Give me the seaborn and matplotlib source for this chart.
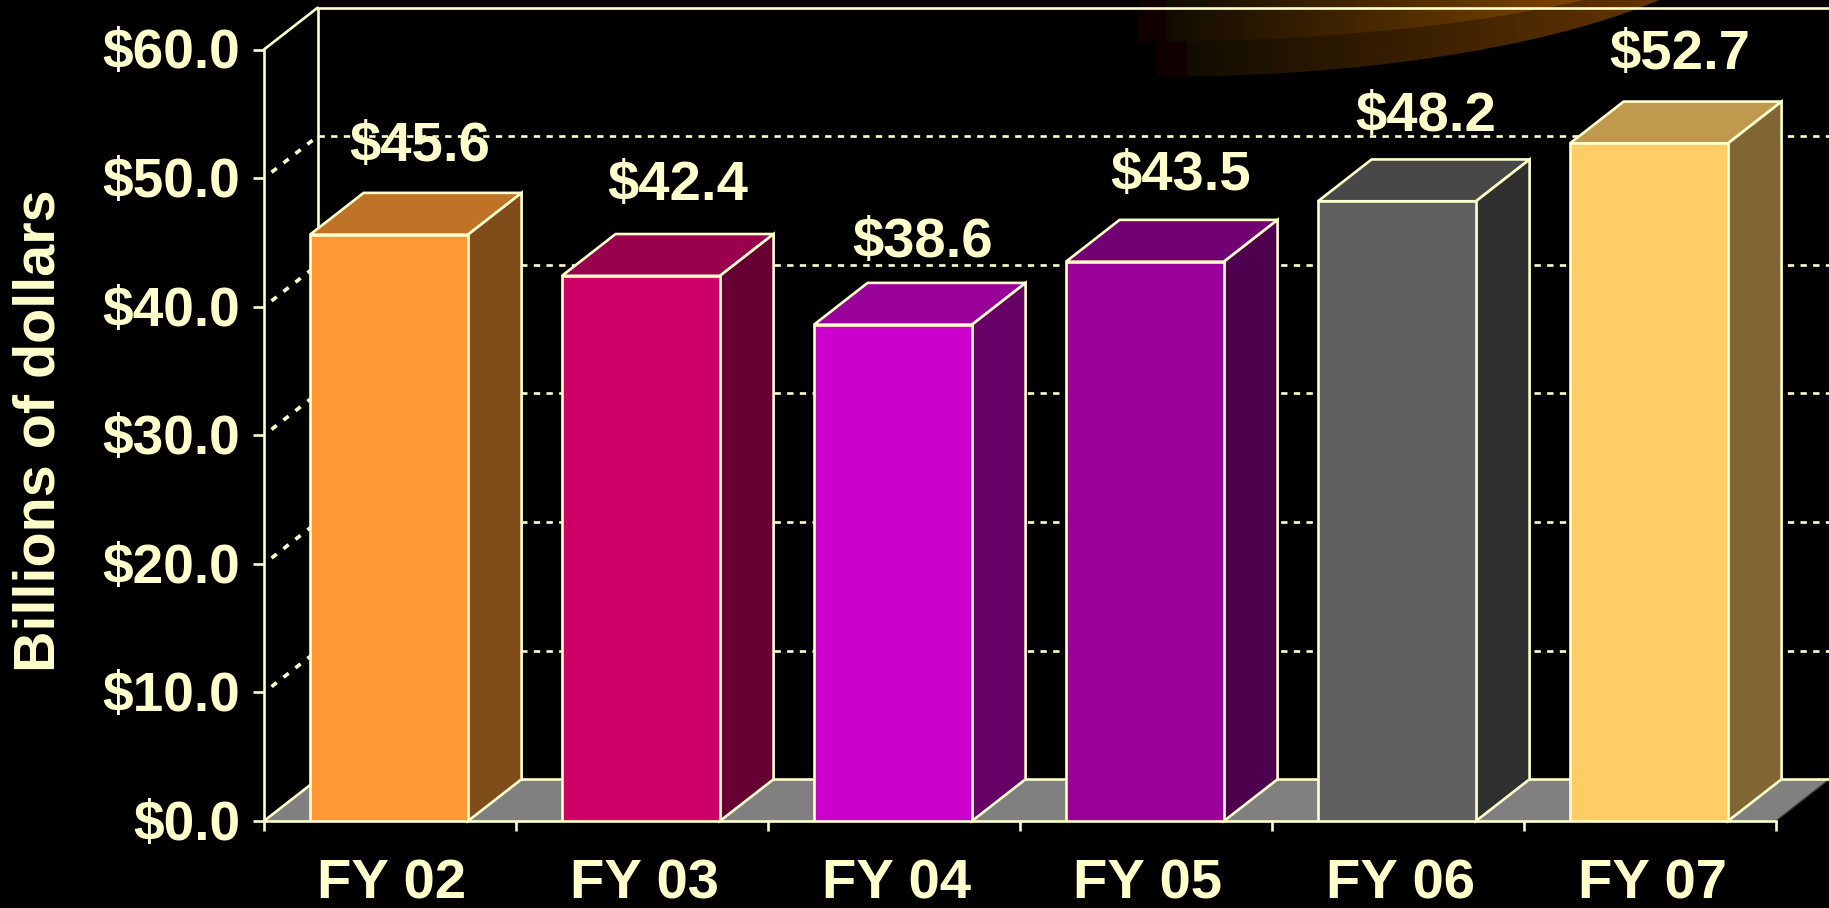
import numpy as np
import seaborn as sns
import matplotlib.pyplot as plt
from matplotlib.colors import LinearSegmentedColormap, to_rgb
from matplotlib.patches import Ellipse
from matplotlib.transforms import ScaledTranslation

years = ['FY 02', 'FY 03', 'FY 04', 'FY 05', 'FY 06', 'FY 07']
values = [45.6, 42.4, 38.6, 43.5, 48.2, 52.7]
value_labels = ['$45.6', '$42.4', '$38.6', '$43.5', '$48.2', '$52.7']
bar_colors = ['#FF9933', '#CC0066', '#CC00CC', '#990099', '#606060', '#FFCC66']
y_ticks = [0, 10, 20, 30, 40, 50, 60]
y_tick_labels = ['$0.0', '$10.0', '$20.0', '$30.0', '$40.0', '$50.0', '$60.0']

# label offsets from the front top edge of each bar, in pixels
label_dx = [30, 36, 29, 35, 28, 30]
label_dy = [74, 76, 68, 72, 70, 74]

W, H = 1829, 908
CREAM = '#FFFFCC'
PX = 0.72  # points per pixel at dpi 100
DX = 53.6 / 252  # depth of the 3d box in x units
DY = 3.25  # depth in y units
LW = 1.9
FONT = 40.5

sns.set_theme(style='white')
plt.rcParams['font.family'] = ['Liberation Sans', 'DejaVu Sans']
plt.rcParams['font.weight'] = 'bold'

fig = plt.figure(figsize=(W / 100, H / 100), dpi=100, facecolor='black')

# orange glow at the top, pixel coordinates
bg = fig.add_axes([0, 0, 1, 1], zorder=0)
bg.set_xlim(0, W)
bg.set_ylim(H, 0)
bg.axis('off')


def glow(x0, x1, y1, end, ell):
    # dark maroon strip on the left, then a ramp up to the orange
    cmap = LinearSegmentedColormap.from_list('g', [(0, '#100000'), (0.05, '#100000'), (0.06, '#120C00'), (1, end)])
    grad = np.linspace(0, 1, 64).reshape(1, -1)
    im = bg.imshow(grad, extent=[x0, x1, y1, 0], cmap=cmap, aspect='auto', zorder=ell['z'])
    patch = Ellipse(ell['c'], ell['w'], ell['h'], transform=bg.transData, fill=False, lw=0)
    bg.add_patch(patch)
    im.set_clip_path(patch)


glow(1156, 1660, 78, '#643400', {'c': (1156, -100), 'w': 1220, 'h': 354, 'z': 1})
glow(1138, 1590, 43, '#804600', {'c': (1138, -100), 'w': 1256, 'h': 284, 'z': 2})
bg.set_xlim(0, W)
bg.set_ylim(H, 0)

ax = fig.add_axes([264 / W, 1 - 821 / H, 1512 / W, 771.5 / H], zorder=1)
ax.patch.set_alpha(0)

sns.barplot(x=years, y=values, hue=years, palette=bar_colors, legend=False, width=0.627,
            edgecolor=CREAM, linewidth=LW, saturation=1, ax=ax)
ax.set_xlim(-0.5, 5.5)
ax.set_ylim(0, 60)

# floor
ax.fill([-0.5, 5.5, 5.5 + DX, -0.5 + DX], [0, 0, DY, DY], color='#808080', lw=0, zorder=1, clip_on=False)
ax.plot([5.5, 5.5 + DX], [0, DY], color='#333333', lw=1, zorder=1, clip_on=False)
ax.plot([-0.5 + DX, 5.5 + DX], [DY, DY], color=CREAM, lw=LW, zorder=1.5, clip_on=False)

# walls
ax.plot([-0.5 + DX, -0.5 + DX], [DY, 60 + DY], color=CREAM, lw=LW, zorder=1.5, clip_on=False)
ax.plot([-0.5 + DX, 5.5 + DX], [60 + DY, 60 + DY], color=CREAM, lw=LW, zorder=1.5, clip_on=False)
ax.plot([-0.5, -0.5 + DX], [60, 60 + DY], color=CREAM, lw=LW, zorder=1.5, clip_on=False)
ax.plot([-0.5, -0.5 + DX], [0, DY], color=CREAM, lw=LW, zorder=1.5, clip_on=False)
for v in y_ticks[1:-1]:
    ax.plot([-0.5 + DX, 5.5 + DX], [v + DY, v + DY], color=CREAM, lw=LW, ls=(0, (2.4, 2.4)),
            zorder=1.5, clip_on=False, dash_capstyle='butt')
    ax.plot([-0.5 + 0.03, -0.5 + DX], [v + 0.45, v + DY], color=CREAM, lw=2.6, ls=(0, (1.8, 2.4)),
            zorder=1.5, clip_on=False, dash_capstyle='butt')

# 3d sides of the bars
for i, (bar, v, c) in enumerate(zip(ax.patches, values, bar_colors)):
    bar.set_zorder(5)
    bar.set_x(bar.get_x() - 1 / 252)
    rgb = np.array(to_rgb(c))
    x0 = bar.get_x()
    x1 = x0 + bar.get_width()
    ax.fill([x0, x1, x1 + DX, x0 + DX], [v, v, v + DY, v + DY], facecolor=rgb * 0.75,
            edgecolor=CREAM, lw=LW, zorder=4, clip_on=False, joinstyle='miter')
    ax.fill([x1, x1 + DX, x1 + DX, x1], [0, DY, v + DY, v], facecolor=rgb * 0.5,
            edgecolor=CREAM, lw=LW, zorder=4, clip_on=False, joinstyle='miter')
    ax.annotate(value_labels[i], (i, v), xytext=(label_dx[i] * PX, label_dy[i] * PX),
                textcoords='offset points', ha='center', va='baseline', color=CREAM,
                fontsize=FONT, fontweight='bold', zorder=6, annotation_clip=False)

sns.despine(ax=ax)
for s in ['left', 'bottom']:
    ax.spines[s].set_color(CREAM)
    ax.spines[s].set_linewidth(LW)
    ax.spines[s].set_zorder(3)

ax.set_yticks(y_ticks)
ax.set_yticklabels(y_tick_labels)
ax.set_xticks(np.arange(-0.5, 6))
ax.set_xticklabels([])
ax.set_xticks(range(len(years)), minor=True)
ax.set_xticklabels(years, minor=True)
ax.tick_params(axis='y', left=True, length=8, width=LW, color=CREAM, labelcolor=CREAM,
               labelsize=39.7, pad=9)
ax.tick_params(axis='x', which='major', bottom=True, length=7.5, width=LW, color=CREAM)
ax.tick_params(axis='x', which='minor', bottom=False, length=0, labelcolor=CREAM,
               labelsize=FONT, pad=27)
ax.set_xlabel('')
ax.set_ylabel('')

# nudge the year labels and the value tick labels to where the reference has them
for lab in ax.get_xticklabels(minor=True):
    lab.set_transform(lab.get_transform() + ScaledTranslation(2 / 100, 0, fig.dpi_scale_trans))
for lab in ax.get_yticklabels():
    lab.set_transform(lab.get_transform() + ScaledTranslation(0, 1 / 100, fig.dpi_scale_trans))

fig.text(40 / W, 1 - 431 / H, 'Billions of dollars', rotation=90, ha='center', va='center',
         color=CREAM, fontsize=41.4, fontweight='bold')

fig.savefig('out.png', dpi=100, facecolor='black')
